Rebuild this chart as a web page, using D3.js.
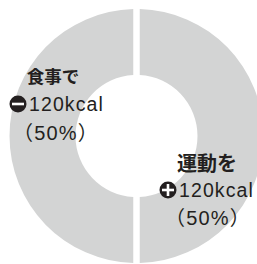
<!DOCTYPE html>
<html>
<head>
<meta charset="utf-8">
<script src="https://cdn.jsdelivr.net/npm/d3@7"></script>
<style>
  html, body { margin: 0; padding: 0; background: #fff; }
  #chart { width: 257px; height: 264px; overflow: hidden; }
  text { font-family: "Liberation Sans", "Noto Sans CJK JP", sans-serif; fill: #231f20; }
</style>
</head>
<body>
<div id="chart"></div>
<script>
const kWidth = 257;
const kHeight = 264;

const categories = ["食事で", "運動を"];
const values = [120, 120];
const signs = ["minus", "plus"];
const units = ["kcal", "kcal"];
const percents = ["（50%）", "（50%）"];

// label layout for each slice: title center x / baseline, value start x / baseline, percent center x / baseline
const titlePos = [[53, 83], [207, 171]];
const titleSize = [17.5, 20];
const valuePos = [[29, 111], [179, 197]];
const percentPos = [[56, 140], [208, 225]];

function createSvg()
{
  return d3.select("#chart")
    .append("svg")
    .attr("width", kWidth)
    .attr("height", kHeight);
}

function drawChart(svg)
{
  const cx = 136.5, cy = 136;
  const outerR = 127, innerR = 61;
  const gap = 6.5;

  const pie = d3.pie()
    .sort(null)
    .startAngle(Math.PI)
    .endAngle(3 * Math.PI);

  const arc = d3.arc()
    .innerRadius(innerR)
    .outerRadius(outerR)
    .padRadius(outerR)
    .padAngle(gap / outerR);

  const g = svg.append("g")
    .attr("transform", `translate(${cx},${cy})`);

  g.selectAll("path")
    .data(pie(values))
    .enter()
    .append("path")
    .attr("d", arc)
    .attr("fill", "#d3d4d4");

  const labels = svg.selectAll("g.label")
    .data(categories)
    .enter()
    .append("g")
    .attr("class", "label");

  labels.append("text")
    .attr("x", (d, i) => titlePos[i][0])
    .attr("y", (d, i) => titlePos[i][1])
    .attr("text-anchor", "middle")
    .attr("font-family", "'Noto Sans CJK JP', sans-serif")
    .attr("font-weight", "bold")
    .attr("font-size", (d, i) => titleSize[i])
    .text(d => d);

  labels.append("text")
    .attr("x", (d, i) => valuePos[i][0])
    .attr("y", (d, i) => valuePos[i][1])
    .attr("font-size", 19.5)
    .attr("letter-spacing", 1.1)
    .text((d, i) => values[i] + units[i]);

  const icon = labels.append("g")
    .attr("transform", (d, i) => `translate(${valuePos[i][0] - 11}, ${valuePos[i][1] - 7})`);

  icon.append("circle")
    .attr("r", 8.5)
    .attr("fill", "#231f20");

  icon.append("rect")
    .attr("x", -6).attr("y", -1.3)
    .attr("width", 12).attr("height", 2.6)
    .attr("fill", "#fff");

  icon.filter((d, i) => signs[i] === "plus")
    .append("rect")
    .attr("x", -1.3).attr("y", -6)
    .attr("width", 2.6).attr("height", 12)
    .attr("fill", "#fff");

  labels.append("text")
    .attr("x", (d, i) => percentPos[i][0])
    .attr("y", (d, i) => percentPos[i][1])
    .attr("text-anchor", "middle")
    .attr("font-size", 20)
    .attr("letter-spacing", 1.2)
    .text((d, i) => percents[i]);
}

document.addEventListener("DOMContentLoaded", () => {
  const svg = createSvg();
  drawChart(svg);
});
</script>
</body>
</html>
